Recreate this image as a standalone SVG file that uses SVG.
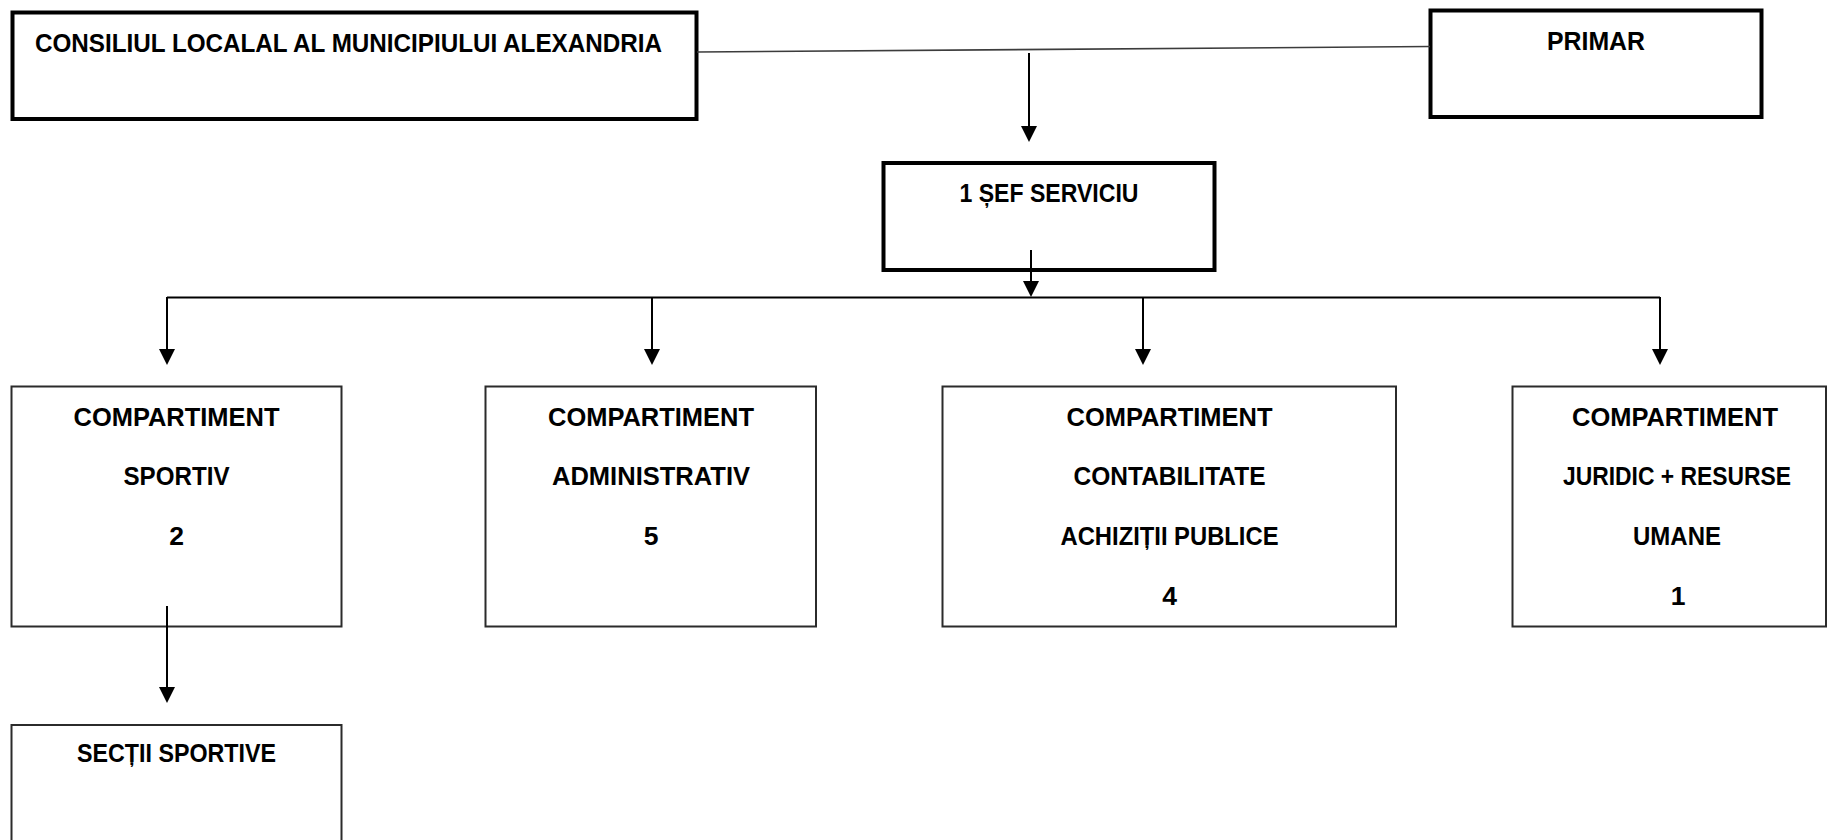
<svg xmlns="http://www.w3.org/2000/svg" width="1827" height="840" viewBox="0 0 1827 840">
<style>
  .thick { fill: #ffffff; stroke: #000000; stroke-width: 4; }
  .thin { fill: #ffffff; stroke: #2b2b2b; stroke-width: 2; }
  .lbl { font-family: "Liberation Sans", Arial, sans-serif; font-weight: bold; font-size: 26.5px; fill: #000000; text-anchor: middle; }
  .lbl-start { font-family: "Liberation Sans", Arial, sans-serif; font-weight: bold; font-size: 26.5px; fill: #000000; }
  .conn { fill: none; stroke: #000000; stroke-width: 2; }
  .link { fill: none; stroke: #3c3c3c; stroke-width: 1.6; }
</style>
<defs>
  <marker id="arrow" viewBox="0 0 16 16" markerWidth="16" markerHeight="16" refX="12" refY="8" orient="auto" markerUnits="userSpaceOnUse">
    <path d="M0,0 L16,8 L0,16 z" fill="#000000"/>
  </marker>
</defs>
<rect x="0" y="0" width="1827" height="840" fill="#ffffff"/>

<g id="node-consiliul">
  <rect class="thick" x="12.5" y="12.5" width="684" height="106.5"/>
  <text class="lbl-start" x="35" y="52" textLength="627" lengthAdjust="spacingAndGlyphs">CONSILIUL LOCALAL AL MUNICIPIULUI ALEXANDRIA</text>
</g>

<g id="node-primar">
  <rect class="thick" x="1430.5" y="10.5" width="331" height="106.5"/>
  <text class="lbl" x="1596" y="50" textLength="98" lengthAdjust="spacingAndGlyphs">PRIMAR</text>
</g>

<g id="node-sef">
  <rect class="thick" x="883.5" y="163" width="331" height="107"/>
  <text class="lbl" x="1049" y="202" textLength="179" lengthAdjust="spacingAndGlyphs">1 ȘEF SERVICIU</text>
</g>

<g id="node-sportiv">
  <rect class="thin" x="11.5" y="386.5" width="330" height="240"/>
  <text class="lbl" x="176.5" y="426" textLength="206" lengthAdjust="spacingAndGlyphs">COMPARTIMENT</text>
  <text class="lbl" x="176.5" y="485" textLength="106" lengthAdjust="spacingAndGlyphs">SPORTIV</text>
  <text class="lbl" x="176.5" y="545">2</text>
</g>

<g id="node-administrativ">
  <rect class="thin" x="485.5" y="386.5" width="330.5" height="240"/>
  <text class="lbl" x="651" y="426" textLength="206" lengthAdjust="spacingAndGlyphs">COMPARTIMENT</text>
  <text class="lbl" x="651" y="485" textLength="198" lengthAdjust="spacingAndGlyphs">ADMINISTRATIV</text>
  <text class="lbl" x="651" y="545">5</text>
</g>

<g id="node-contabilitate">
  <rect class="thin" x="942.5" y="386.5" width="453.5" height="240"/>
  <text class="lbl" x="1169.5" y="426" textLength="206" lengthAdjust="spacingAndGlyphs">COMPARTIMENT</text>
  <text class="lbl" x="1169.5" y="485" textLength="192" lengthAdjust="spacingAndGlyphs">CONTABILITATE</text>
  <text class="lbl" x="1169.5" y="545" textLength="218" lengthAdjust="spacingAndGlyphs">ACHIZIȚII PUBLICE</text>
  <text class="lbl" x="1169.5" y="605">4</text>
</g>

<g id="node-juridic">
  <rect class="thin" x="1512.5" y="386.5" width="313.5" height="240"/>
  <text class="lbl" x="1675" y="426" textLength="206" lengthAdjust="spacingAndGlyphs">COMPARTIMENT</text>
  <text class="lbl" x="1677" y="485" textLength="228" lengthAdjust="spacingAndGlyphs">JURIDIC + RESURSE</text>
  <text class="lbl" x="1677" y="545" textLength="88" lengthAdjust="spacingAndGlyphs">UMANE</text>
  <text class="lbl" x="1678" y="605">1</text>
</g>

<g id="node-sectii">
  <rect class="thin" x="11.5" y="725" width="330" height="140"/>
  <text class="lbl" x="176.5" y="762" textLength="199" lengthAdjust="spacingAndGlyphs">SECȚII SPORTIVE</text>
</g>

<g id="connectors">
  <line class="link" x1="697" y1="52" x2="1430" y2="46.5"/>
  <line class="conn" x1="1029" y1="53" x2="1029" y2="138" marker-end="url(#arrow)"/>
  <line class="conn" x1="1031" y1="250" x2="1031" y2="293" marker-end="url(#arrow)"/>
  <line class="conn" x1="167" y1="297.5" x2="1660" y2="297.5"/>
  <line class="conn" x1="167" y1="297" x2="167" y2="361" marker-end="url(#arrow)"/>
  <line class="conn" x1="652" y1="298" x2="652" y2="361" marker-end="url(#arrow)"/>
  <line class="conn" x1="1143" y1="298" x2="1143" y2="361" marker-end="url(#arrow)"/>
  <line class="conn" x1="1660" y1="297" x2="1660" y2="361" marker-end="url(#arrow)"/>
  <line class="conn" x1="167" y1="606" x2="167" y2="699" marker-end="url(#arrow)"/>
</g>
</svg>
